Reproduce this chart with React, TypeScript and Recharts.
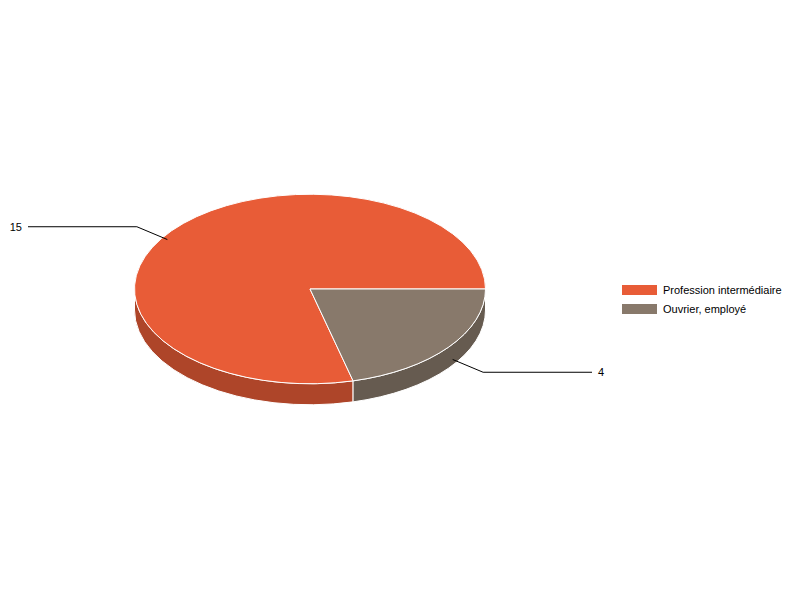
import React from "react";
import { PieChart, Pie, Cell, Legend } from "recharts";

const categories = ["Profession intermédiaire", "Ouvrier, employé"];
const values = [15, 4];
const colors = ["#E85C37", "#88796B"];

const data = categories.map((name, i) => ({ name, value: values[i] }));

const RAD = Math.PI / 180;
const TILT = 0.54; // vertical squash of the top face
const DEPTH = 21; // height of the side wall
const FONT = '"Liberation Sans", Arial, sans-serif';

const darken = (hex: string, k: number) => {
  const n = parseInt(hex.slice(1), 16);
  const ch = (s: number) => Math.round(((n >> s) & 255) * k);
  return `rgb(${ch(16)},${ch(8)},${ch(0)})`;
};

// one slice drawn as an elliptical top face plus its visible front wall
const Slice3D = (props: any) => {
  const { cx, cy, outerRadius, startAngle, endAngle, fill } = props;
  const rx = outerRadius;
  const ry = outerRadius * TILT;
  const pt = (a: number, dy = 0) =>
    `${cx + rx * Math.cos(a * RAD)},${cy - ry * Math.sin(a * RAD) + dy}`;

  const lo = Math.min(startAngle, endAngle);
  const hi = Math.max(startAngle, endAngle);
  const large = hi - lo > 180 ? 1 : 0;
  const top = `M${cx},${cy} L${pt(lo)} A${rx},${ry} 0 ${large} 0 ${pt(hi)} Z`;

  // front half of the ellipse lies between 180 and 360 degrees
  const a1 = Math.max(lo, 180);
  const a2 = Math.min(hi, 360);
  let side = null;
  if (a2 > a1) {
    const sl = a2 - a1 > 180 ? 1 : 0;
    const d = `M${pt(a1)} A${rx},${ry} 0 ${sl} 0 ${pt(a2)} L${pt(a2, DEPTH)} A${rx},${ry} 0 ${sl} 1 ${pt(a1, DEPTH)} Z`;
    side = <path d={d} fill={darken(fill, 0.75)} stroke="#fff" strokeWidth={1} />;
  }

  return (
    <g>
      {side}
      <path d={top} fill={fill} stroke="#fff" strokeWidth={1} />
    </g>
  );
};

const renderLabel = (props: any) => {
  const { cx, cy, midAngle, outerRadius, value } = props;
  const rx = outerRadius;
  const ry = outerRadius * TILT;
  const c = Math.cos(midAngle * RAD);
  const s = Math.sin(midAngle * RAD);
  const x0 = cx + rx * 1.03 * c;
  const y0 = cy - ry * 1.03 * s + DEPTH / 2;
  const x1 = cx + rx * 1.25 * c;
  const y1 = cy - ry * 1.25 * s + DEPTH / 2;
  const right = c >= 0;
  const x2 = right ? cx + 282 : cx - 282;
  const tx = right ? x2 + 6 : x2 - 6;
  return (
    <g>
      <polyline
        points={`${x0},${y0} ${x1},${y1} ${x2},${y1}`}
        fill="none"
        stroke="#000"
        strokeWidth={1}
      />
      <text
        x={tx}
        y={y1}
        textAnchor={right ? "start" : "end"}
        dominantBaseline="central"
        fontFamily={FONT}
        fontSize={11}
        fill="#000"
        stroke="none"
      >
        {value}
      </text>
    </g>
  );
};

// legend kept in data order (Recharts would sort it by name)
const renderLegend = () => (
  <div style={{ fontFamily: FONT, fontSize: 11, color: "#000" }}>
    {categories.map((name, i) => (
      <div key={name} style={{ display: "flex", alignItems: "center", height: 19 }}>
        <span
          style={{
            display: "inline-block",
            width: 35,
            height: 10,
            background: colors[i],
            marginRight: 6,
          }}
        />
        <span>{name}</span>
      </div>
    ))}
  </div>
);

export default function App() {
  return (
    <div style={{ width: 800, height: 600, background: "#fff" }}>
      <style>{`body{margin:0}`}</style>
      <PieChart width={800} height={600} margin={{ top: 0, right: 0, bottom: 0, left: 0 }}>
        <Pie
          data={data}
          dataKey="value"
          nameKey="name"
          cx={310}
          cy={289}
          outerRadius={175.5}
          startAngle={0}
          endAngle={360}
          stroke="#fff"
          shape={Slice3D}
          inactiveShape={Slice3D}
          activeShape={Slice3D}
          label={renderLabel}
          labelLine={false}
          isAnimationActive={false}
        >
          {data.map((d, i) => (
            <Cell key={d.name} fill={colors[i]} />
          ))}
        </Pie>
        <Legend
          layout="vertical"
          align="right"
          verticalAlign="middle"
          content={renderLegend}
          wrapperStyle={{ left: 622, top: 280, width: 175 }}
        />
      </PieChart>
    </div>
  );
}
